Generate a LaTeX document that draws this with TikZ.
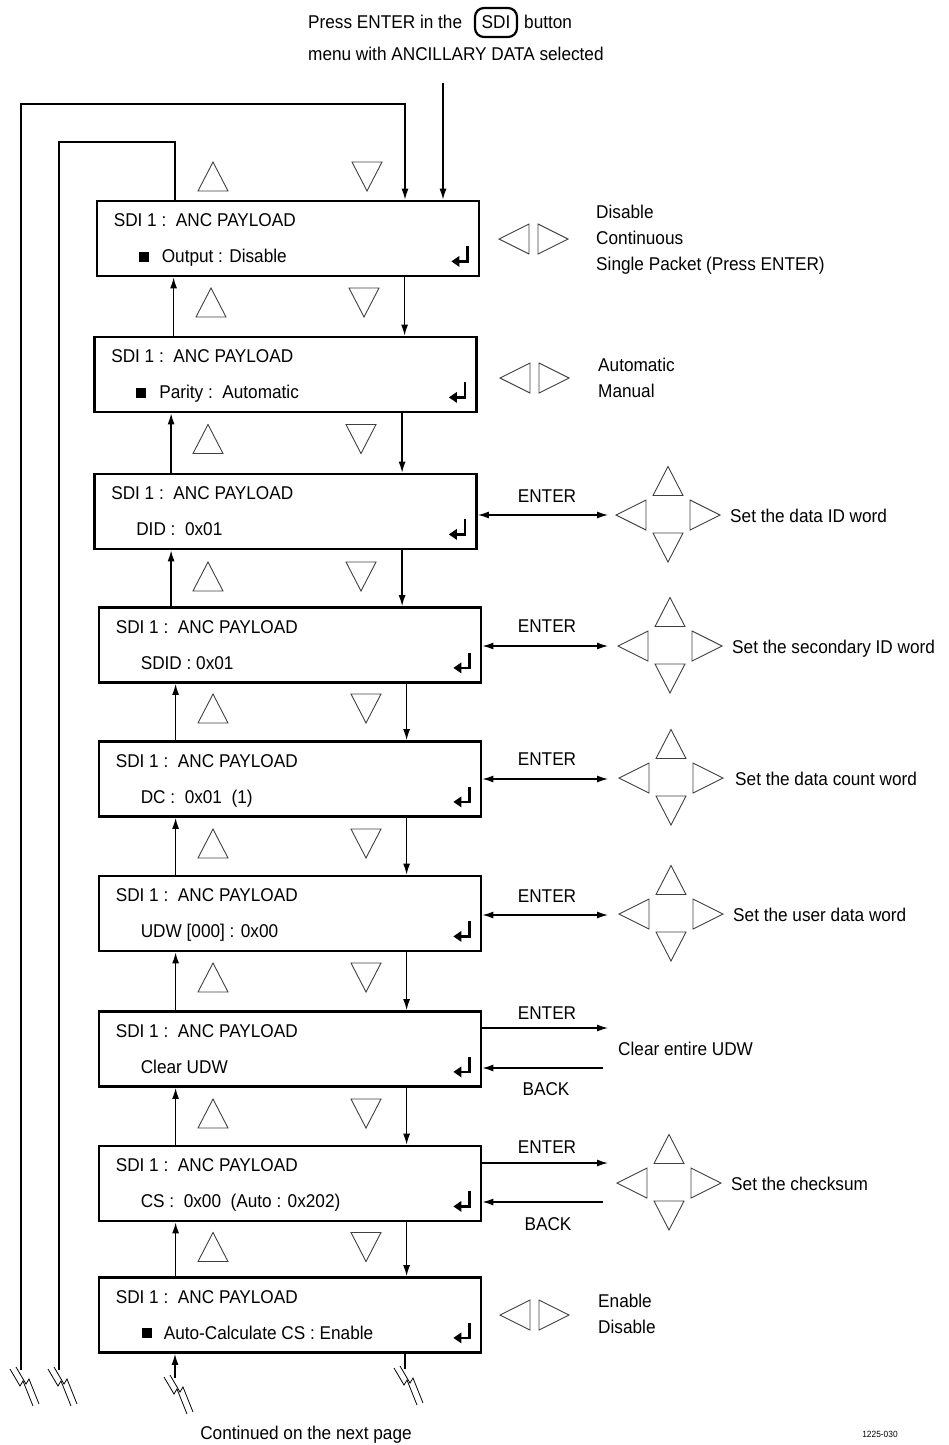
\documentclass[tikz,border=0pt]{standalone}
\usepackage{fontspec}
\setmainfont[FakeStretch=0.93]{Liberation Sans}
\usetikzlibrary{arrows.meta,calc}
\tikzset{
  every node/.style={font=\fontsize{18.5}{22}\selectfont, inner sep=0pt},
  box/.style={draw, line width=2.8pt, minimum width=382pt, minimum height=75pt},
  conn/.style={line width=1.3pt},
  arr/.style={conn, -{Latex[length=11pt,width=7pt]}},
  darr/.style={conn, {Latex[length=11pt,width=7pt]}-{Latex[length=11pt,width=7pt]}},
  tri/.style={draw=black!75, line width=0.9pt},
  bul/.style={fill, minimum size=10pt},
  uptri/.pic={\draw[tri] (-15,14.5) -- (0,-14.5) -- (15,14.5) -- cycle;},
  dntri/.pic={\draw[tri] (-15,-14.5) -- (0,14.5) -- (15,-14.5) -- cycle;},
  lftri/.pic={\draw[tri] (15,-15) -- (-15,0) -- (15,15) -- cycle;},
  rttri/.pic={\draw[tri] (-15,-15) -- (15,0) -- (-15,15) -- cycle;},
  crosstri/.pic={
    \draw[tri] (-15,-19.5) -- (0,-48.5) -- (15,-19.5) -- cycle;
    \draw[tri] (-22,-15) -- (-52,0) -- (-22,15) -- cycle;
    \draw[tri] (22,-15) -- (52,0) -- (22,15) -- cycle;
    \draw[tri] (-15,18) -- (0,47) -- (15,18) -- cycle;},
  entsym/.pic={
    \draw[line width=2.4pt] (-13,-31) -- (-13,-16) -- (-22,-16);
    \fill (-29,-16) -- (-21,-21.5) -- (-21,-10.5) -- cycle;},
  brk/.pic={
    \draw[line width=0.8pt] (-11,-1) -- (-1,16) -- (2,11) -- (12,36);
    \draw[line width=0.8pt] (-5,-3) -- (5,14) -- (8,9) -- (18,34);},
}
\begin{document}
\begin{tikzpicture}[x=1pt,y=-1pt]
\useasboundingbox (0,0) rectangle (948,1445);

% top text
\node[anchor=base west] (top1) at (308,29) {Press ENTER in the};
\node[draw, rounded corners=9pt, line width=2.2pt, minimum width=42pt, minimum height=29pt] (sdi) at (496,22.5) {SDI};
\node[anchor=base west] (top2) at (524,29) {button};
\node[anchor=base west] (top3) at (308,60) {menu with ANCILLARY DATA selected};

% boxes
\node[box] (b1) at (288,238.5) {};
\node[box] (b2) at (285.5,374.5) {};
\node[box] (b3) at (285.5,511.5) {};
\node[box] (b4) at (290,645) {};
\node[box] (b5) at (290,779) {};
\node[box] (b6) at (290,913.5) {};
\node[box] (b7) at (290,1049) {};
\node[box] (b8) at (290,1183.5) {};
\node[box] (b9) at (290,1315) {};

\foreach \i in {1,...,9} {
  \node[anchor=base west] (h\i) at ($(b\i.north west)+(18,27)$) {SDI 1 :\ \ ANC PAYLOAD};
  \pic at (b\i.south east) {entsym};
}

% second lines
\node[bul] (q1) at ($(b1.north west)+(48,57)$) {};
\node[anchor=base west] (s1) at ($(b1.north west)+(66,63)$) {Output : Disable};
\node[bul] (q2) at ($(b2.north west)+(48,57)$) {};
\node[anchor=base west] (s2) at ($(b2.north west)+(66,63)$) {Parity :\ \ Automatic};
\node[anchor=base west] (s3) at ($(b3.north west)+(43,63)$) {DID :\ \ 0x01};
\node[anchor=base west] (s4) at ($(b4.north west)+(43,63)$) {SDID : 0x01};
\node[anchor=base west] (s5) at ($(b5.north west)+(43,63)$) {DC :\ \ 0x01\ \ (1)};
\node[anchor=base west] (s6) at ($(b6.north west)+(43,63)$) {UDW [000] : 0x00};
\node[anchor=base west] (s7) at ($(b7.north west)+(43,63)$) {Clear UDW};
\node[anchor=base west] (s8) at ($(b8.north west)+(43,63)$) {CS :\ \ 0x00\ \ (Auto : 0x202)};
\node[bul] (q9) at ($(b9.north west)+(49,57)$) {};
\node[anchor=base west] (s9) at ($(b9.north west)+(66,63)$) {Auto-Calculate CS : Enable};

% vertical connectors between boxes
\foreach \a/\b in {1/2,2/3,3/4,4/5,5/6,6/7,7/8,8/9} {
  \coordinate (u\a) at ($(b\a.south west)+(78,0)$);
  \coordinate (d\a) at ($(b\a.south west)+(309,0)$);
  \draw[arr] (u\a |- b\b.north) -- (u\a);
  \draw[arr] (d\a) -- (d\a |- b\b.north);
}

% up/down triangles in gaps
\foreach \ux/\dx/\y in {213/367/176.5, 211/364/302.5, 208/361/439, 208/361/576.5, 213/366/708.5, 213/366/843.5, 213/366/977.5, 213/366/1113.5, 213/366/1247} {
  \pic at (\ux,\y) {uptri};
  \pic at (\dx,\y) {dntri};
}

% loops and entry
\coordinate (ot) at (405,104);
\coordinate (ob) at (21,1370);
\draw[arr] (ob) |- (ot) -- (ot |- b1.north);
\coordinate (it) at (175,142);
\coordinate (ib) at (59,1370);
\draw[conn] (it |- b1.north) -- (it) -| (ib);
\coordinate (en) at (443,83);
\draw[arr] (en) -- (en |- b1.north);

% bottom
\coordinate (ub) at (175,1378);
\draw[arr] (ub) -- (ub |- b9.south);
\coordinate (db) at (405,1369);
\draw[conn] (db |- b9.south) -- (db);
\pic at (ob) {brk};
\pic at (ib) {brk};
\pic at (ub) {brk};
\pic at (db) {brk};

% right side: option lists
\pic at (514,239) {lftri};
\pic at (553,239) {rttri};
\node[anchor=base west] (o1a) at (596,218) {Disable};
\node[anchor=base west] (o1b) at (596,244) {Continuous};
\node[anchor=base west] (o1c) at (596,270) {Single Packet (Press ENTER)};

\pic at (515,378) {lftri};
\pic at (554,378) {rttri};
\node[anchor=base west] (o2a) at (598,371) {Automatic};
\node[anchor=base west] (o2b) at (598,397) {Manual};

\pic at (515,1315) {lftri};
\pic at (554,1315) {rttri};
\node[anchor=base west] (o9a) at (598,1307) {Enable};
\node[anchor=base west] (o9b) at (598,1333) {Disable};

% ENTER double arrows with crosses
\coordinate (e3) at (608,515);
\draw[darr] (e3 -| b3.east) -- (e3);
\node[anchor=base] (l3) at (547,502) {ENTER};
\pic at (668,515) {crosstri};
\node[anchor=base west] (x3) at (730,522) {Set the data ID word};

\coordinate (e4) at (608,646);
\draw[darr] (e4 -| b4.east) -- (e4);
\node[anchor=base] (l4) at (547,632) {ENTER};
\pic at (670,646) {crosstri};
\node[anchor=base west] (x4) at (732,653) {Set the secondary ID word};

\coordinate (e5) at (608,779);
\draw[darr] (e5 -| b5.east) -- (e5);
\node[anchor=base] (l5) at (547,765) {ENTER};
\pic at (671,778) {crosstri};
\node[anchor=base west] (x5) at (735,785) {Set the data count word};

\coordinate (e6) at (608,915);
\draw[darr] (e6 -| b6.east) -- (e6);
\node[anchor=base] (l6) at (547,902) {ENTER};
\pic at (671,914) {crosstri};
\node[anchor=base west] (x6) at (733,921) {Set the user data word};

% Clear UDW
\coordinate (e7) at (608,1028);
\draw[arr] (e7 -| b7.east) -- (e7);
\coordinate (k7) at (603,1068);
\draw[arr] (k7) -- (k7 -| b7.east);
\node[anchor=base] (l7) at (547,1019) {ENTER};
\node[anchor=base] (m7) at (546,1095) {BACK};
\node[anchor=base west] (x7) at (618,1055) {Clear entire UDW};

% checksum
\coordinate (e8) at (608,1163);
\draw[arr] (e8 -| b8.east) -- (e8);
\coordinate (k8) at (603,1202);
\draw[arr] (k8) -- (k8 -| b8.east);
\node[anchor=base] (l8) at (547,1153) {ENTER};
\node[anchor=base] (m8) at (548,1230) {BACK};
\pic at (669,1183) {crosstri};
\node[anchor=base west] (x8) at (731,1190) {Set the checksum};

% footer
\node[anchor=base] (cont) at (306,1439) {Continued on the next page};
\node[anchor=base, font=\fontsize{9}{11}\selectfont] (fig) at (880,1437) {1225-030};
\end{tikzpicture}
\end{document}
